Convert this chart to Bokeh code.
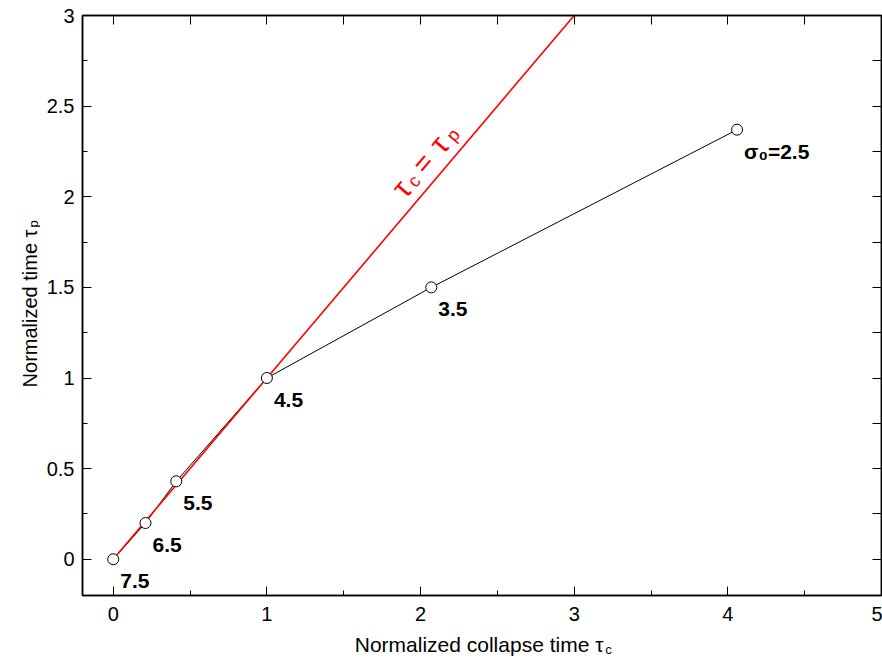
import math

from bokeh.core.properties import value
from bokeh.embed import file_html
from bokeh.layouts import column, row
from bokeh.models import (ColumnDataSource, CustomJSTickFormatter, FixedTicker,
                          Label, LabelSet, LinearAxis, Range1d,
                          SingleIntervalTicker)
from bokeh.plotting import figure
from bokeh.resources import INLINE

# Collapse time vs. normalized time for several initial widths sigma_0
tau_c = [0.0, 0.21, 0.41, 1.0, 2.07, 4.06]
tau_p = [0.0, 0.20, 0.43, 1.0, 1.50, 2.37]
sigma0_labels = ["7.5", "6.5", "5.5", "4.5", "3.5", "σ₀=2.5"]

# Reference line tau_c = tau_p
equal_line = [0.0, 3.0]

x_ticks_top = [i * 0.5 for i in range(11)]
y_ticks_right = [i * 0.25 for i in range(13)]

FONT = "Liberation Sans"
W, H = 882, 660
STRIP_L = 40          # strip holding the vertical axis title
STRIP_B = 30          # strip holding the horizontal axis title
MAIN_W, MAIN_H = W - STRIP_L, H - STRIP_B
LEFT, RIGHT, TOP, BOTTOM = 42, 841, 15, 595   # frame edges inside main plot
X0, X1 = -0.2, 5.0
Y0, Y1 = -0.2, 3.0

p = figure(width=MAIN_W, height=MAIN_H, output_backend="svg",
           toolbar_location=None, title=None,
           x_range=Range1d(X0, X1), y_range=Range1d(Y0, Y1),
           min_border_left=LEFT, min_border_right=MAIN_W - RIGHT,
           min_border_top=TOP, min_border_bottom=MAIN_H - BOTTOM)
p.background_fill_color = "white"
p.border_fill_color = "white"
p.outline_line_color = "black"
p.outline_line_width = 1.5
p.grid.visible = False

# bottom / left axes
xa = p.xaxis[0]
xa.ticker = SingleIntervalTicker(interval=1, num_minor_ticks=2)
ya = p.yaxis[0]
ya.ticker = SingleIntervalTicker(interval=0.5, num_minor_ticks=2)
for ax in (xa, ya):
    ax.axis_line_color = "black"
    ax.axis_line_width = 1.5
    ax.major_tick_in = 9
    ax.major_tick_out = 0
    ax.minor_tick_in = 5
    ax.minor_tick_out = 0
    ax.major_tick_line_color = "black"
    ax.minor_tick_line_color = "black"
    ax.major_label_text_font = FONT
    ax.major_label_text_font_size = "20px"
    ax.major_label_text_color = "black"
xa.major_label_standoff = 11
ya.major_label_standoff = 8

# top / right axes carry ticks only
blank = CustomJSTickFormatter(code="return ''")
top = LinearAxis(ticker=FixedTicker(ticks=x_ticks_top), formatter=blank)
right = LinearAxis(ticker=FixedTicker(ticks=y_ticks_right), formatter=blank)
for ax in (top, right):
    ax.axis_line_color = "black"
    ax.axis_line_width = 1.5
    ax.major_tick_in = 9
    ax.major_tick_out = 0
    ax.minor_tick_line_color = None
    ax.major_label_standoff = 0
    ax.major_label_text_font_size = "1px"
    ax.axis_label_standoff = 0
p.add_layout(top, "above")
p.add_layout(right, "right")

# data
p.line(tau_c, tau_p, line_color="black", line_width=1)
p.line(equal_line, equal_line, line_color="#ff0000", line_width=1.6)
p.scatter(tau_c, tau_p, size=11, fill_color="white", line_color="black",
          line_width=1)

src = ColumnDataSource(dict(x=tau_c, y=tau_p, text=sigma0_labels))
p.add_layout(LabelSet(x="x", y="y", text="text", source=src,
                      x_offset=7, y_offset=-29, text_baseline="alphabetic",
                      text_font=value(FONT), text_font_style="bold",
                      text_font_size="21px", text_color="black"))

# rotated annotation along the identity line
px_per_x = (RIGHT - LEFT) / (X1 - X0)
px_per_y = (BOTTOM - TOP) / (Y1 - Y0)
theta = math.atan2(px_per_y, px_per_x)
ux, uy = math.cos(theta), math.sin(theta)
nx, ny = -math.sin(theta), math.cos(theta)
anchor = 1.95
pieces = [("τ", 30, 0, 0), ("c", 18, 15, -5), ("=", 28, 31, 0),
          ("τ", 30, 58, 0), ("p", 18, 75, -5)]
base_h = 20
for txt, size, s, lift in pieces:
    h = base_h + lift
    p.add_layout(Label(x=anchor, y=anchor, text=txt,
                       x_offset=s * ux + h * nx, y_offset=s * uy + h * ny,
                       angle=theta, text_align="left",
                       text_baseline="alphabetic", text_font=FONT,
                       text_font_size=f"{size}px", text_color="#ff0000"))


def strip(width, height):
    f = figure(width=width, height=height, output_backend="svg",
               toolbar_location=None, title=None, x_axis_location=None,
               y_axis_location=None, x_range=Range1d(0, width),
               y_range=Range1d(0, height), min_border=0,
               min_border_left=0, min_border_right=0,
               min_border_top=0, min_border_bottom=0)
    f.outline_line_color = None
    f.grid.visible = False
    f.background_fill_color = "white"
    f.border_fill_color = "white"
    return f


common = dict(text_font=FONT, text_color="black", text_baseline="alphabetic")

# horizontal axis title: "Normalized collapse time τ_c"
bottom = strip(MAIN_W, STRIP_B)
bottom.add_layout(Label(x=549, y=16, text="Normalized collapse time τ",
                        text_align="right", text_font_size="21px", **common))
bottom.add_layout(Label(x=551, y=11, text="c", text_align="left",
                        text_font_size="13px", **common))

# vertical axis title: "Normalized time τ_p"
left = strip(STRIP_L, H)
left.add_layout(Label(x=29, y=H - 229, text="Normalized time τ",
                      text_align="right", angle=math.pi / 2,
                      text_font_size="20px", **common))
left.add_layout(Label(x=33, y=H - 227, text="p", text_align="left",
                      angle=math.pi / 2, text_font_size="13px", **common))

layout = row(left, column(p, bottom, spacing=0), spacing=0)

open("out.html", "w").write(file_html(layout, INLINE))
